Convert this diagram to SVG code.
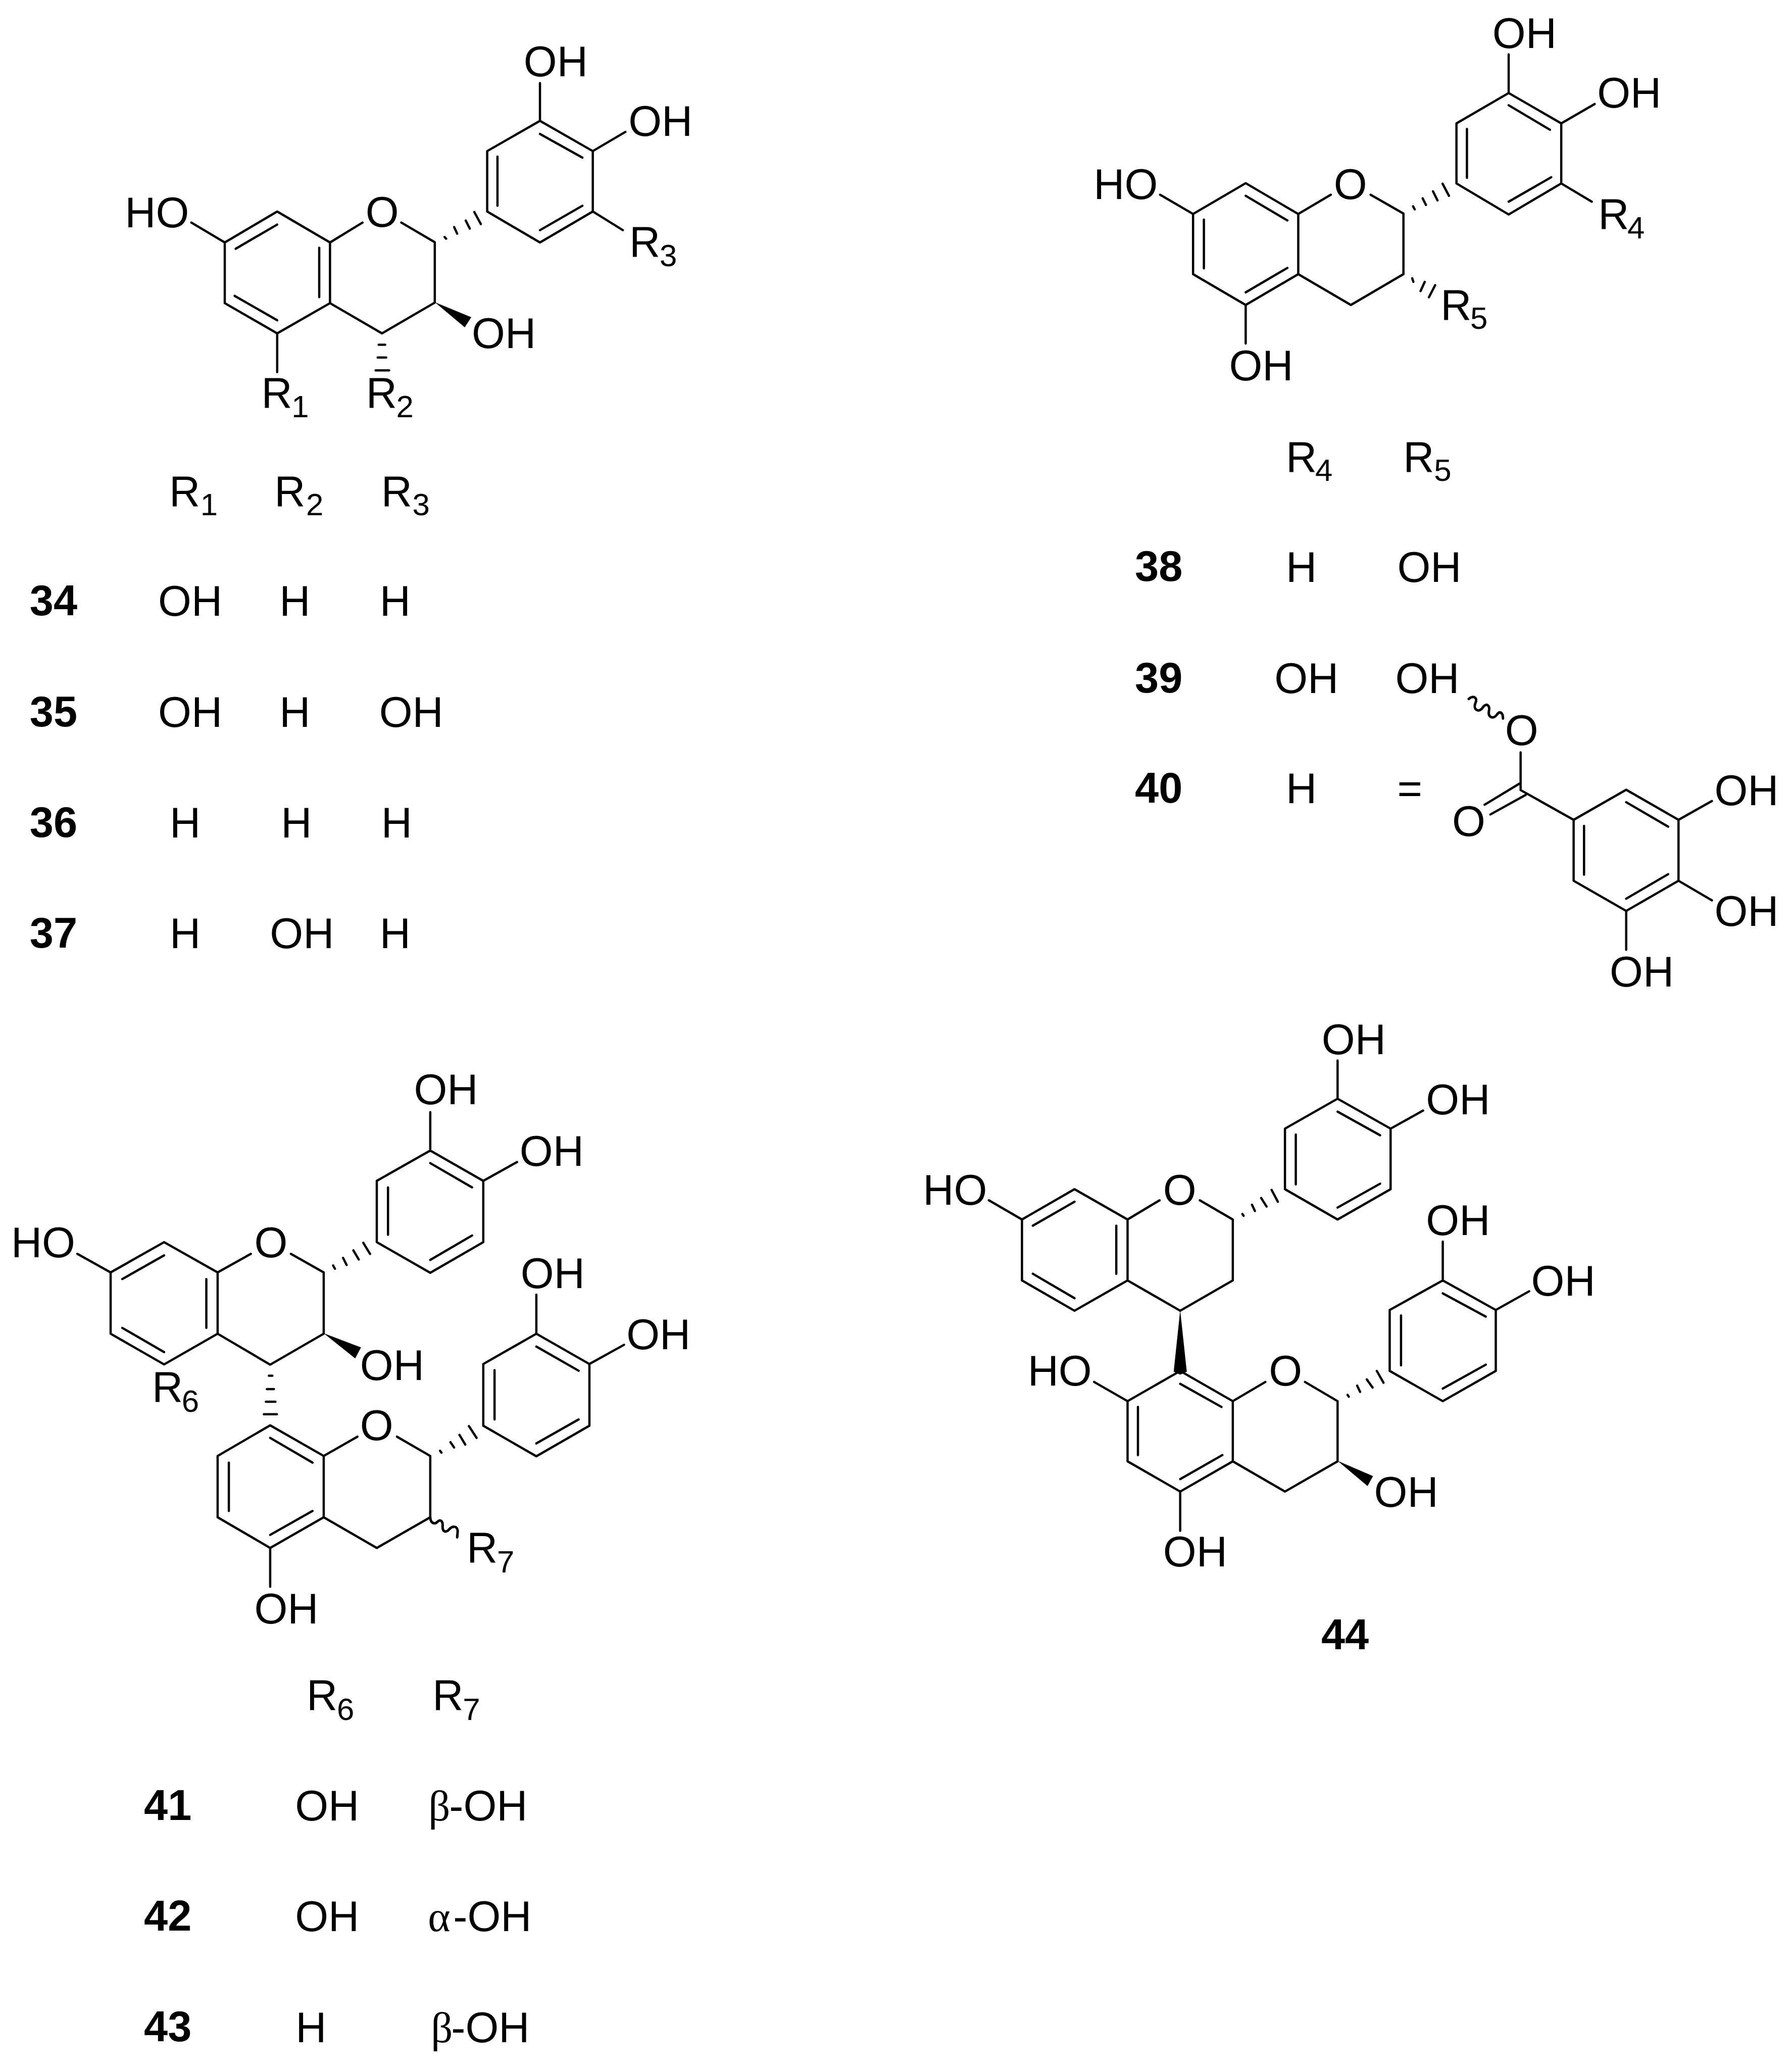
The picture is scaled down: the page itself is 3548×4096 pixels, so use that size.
<svg xmlns="http://www.w3.org/2000/svg" width="3548" height="4096" viewBox="0 0 3548 4096">
<style>
text{font-family:"Liberation Sans",Arial,sans-serif;font-size:85px;fill:#000}
.s{font-size:62px}
.b{font-weight:bold}
.g{font-family:"Liberation Serif","Times New Roman",serif}
.bond{fill:none;stroke:#000;stroke-width:4.5;stroke-linecap:round;stroke-linejoin:round}
.wave{fill:none;stroke:#000;stroke-width:5;stroke-linecap:round}
.wedge{fill:#000;stroke:none}
</style>
<rect width="3548" height="4096" fill="#fff"/>
<g transform="scale(0.99691)">
<g id="connectors">
<g id="bonds-34">
<path class="bond" d="M380,442L446.4,481.5M446.4,481.5L550.5,420L655.4,481.5V602L550.5,662L446.4,602ZM655.4,481.5L720,442M797,442L863.5,481V601L758.7,662L655.4,602M863.5,481M967.6,420V300L1072.4,240L1177.3,300V420L1072.4,481.5ZM1072.4,240V165M1177.3,300L1242,262M1177.3,420L1237,457M550.5,662V739M468,494L550.5,446M634,492V590M550.5,636L466,587.5M988,311V408.6M1072.5,266L1156.6,313M1156.6,408.6L1072.5,457"/>
<path class="bond" d="M883,470.6L886,474M902,451L908,464M925,438L933,454M942,421L955,445M752,684.5H765M750,710H767M746,735.5H773"/>
<polygon class="wedge" points="863.5,600 923,650 936,630"/>
</g>
<g id="bonds-38">
<path class="bond" d="M2304,386.7L2369.5,425M2369.5,425L2474,363.8L2578.4,425V544.4L2474,605.6L2369.5,544.4ZM2578.4,425L2643,386.7M2722,386.7L2787.3,424V544.4L2682.9,605.6L2578.4,544.4M2892.6,364.3V245L2996.3,184.7L3100.7,245V364.3L2996.3,426ZM2996.3,184.7V108M3100.7,245L3167,206.6M3100.7,364.3L3161.3,400.5M2474,605.6V682M2474,388.8L2556.8,437.7M2556.8,532L2474,580.6M2391,533V436M2913.4,353V256M2996.3,209L3078.3,257.7M3080.8,352L2996.3,400.5"/>
<path class="bond" d="M2806.4,409.7L2809.7,415.8M2825.5,393.9L2832,407M2846,380L2855,398M2865,364.8L2877.7,388.8M2804.7,552.5L2807,559.7M2829.6,559.7L2821.3,578M2850.3,566.3L2837.9,590.3"/>
</g>
<g id="bonds-gallate">
<path class="bond" d="M3020,1494V1569L3125.3,1628M3017.4,1556.3L2948.5,1598M3030,1578.6L2960,1617.4M3125.3,1628L3229.7,1568.4L3333.6,1628V1749L3229.7,1809L3125.3,1749ZM3229.7,1593L3313,1641.6M3313,1736L3229.7,1784.6M3146,1737V1640M3333.6,1628L3400,1590.7M3333.6,1749L3400,1788M3229.7,1809V1886"/>
<path class="wave" d="M2917,1388C2925,1380 2936,1385 2930,1397C2925,1410 2938,1416 2945,1405C2952,1394 2960,1402 2957,1412C2955,1425 2966,1429 2973,1419C2979,1411 2985,1415 2985,1427"/>
</g>
<g id="bonds-41">
<path class="bond" d="M153.6,2490L219.7,2526.8M219.7,2526.8L325.9,2466.7L432.2,2526.8V2648.6L325.9,2709.5L219.7,2648.6ZM432.2,2526.8L498.2,2490M577.7,2490L642.9,2526.8V2648.6L536.6,2710L432.2,2648.6M748.3,2466.7V2345L854.5,2284.8L959.8,2345V2466.7L854.5,2527.6ZM854.5,2284.8V2208.5M959.8,2345L1026.8,2307.6M242.9,2540L325.9,2493M409.8,2540V2637M325.9,2685L242.9,2637M770.6,2452V2358M854.5,2309.8L937.6,2358M937.6,2453.5L854.5,2502"/>
<path class="bond" d="M536.6,2830.5L642.9,2891.3V3013L536.6,3074L432.2,3013V2891.3ZM642.9,2891.3L709.8,2853M788.4,2853L854.5,2891.3V3013L748.3,3074L642.9,3013M536.6,2855.4L620.6,2904.5M620.6,3000.6L536.6,3048M454.5,3000.6V2904.5M959.8,2831.2V2708.7L1065.2,2648.6L1170.6,2708.7V2831.2L1065.2,2892ZM982.2,2818.7V2721M1065.2,2674L1149.2,2722M1149.2,2818.7L1065.2,2866.4M1065.2,2648.6V2571M1170.6,2708.7L1239.3,2670.6M536.6,3074V3151"/>
<path class="bond" d="M661.6,2513L665.2,2519.5M681.3,2498L688.4,2512M701.8,2483L712.5,2501M721.5,2468L734.9,2490M534,2732H541M530,2758.6H544M528,2783.5H547M524,2808.5H550M874,2881L876.8,2884.7M894.7,2864L901.8,2874.5M912.5,2849.5L924,2868.6M931.3,2832L946.5,2855.4"/>
<polygon class="wedge" points="642.9,2647.6 717,2675.7 705.4,2697.7"/>
<path class="wave" d="M854.5,3013C855,3026 864,3028 870,3021C877,3016 880,3024 879,3032C879,3043 887,3044 893,3036C899,3030 908,3030 909,3040C909,3045 908,3049 908,3053"/>
</g>
<g id="bonds-44">
<path class="bond" d="M1964,2383.6L2029.7,2421.7M2029.7,2421.7L2134,2361.6L2239.4,2421.7V2542.7L2134,2602.9L2029.7,2542.7ZM2239.4,2421.7L2303,2383.6M2382.9,2383.6L2448.4,2421.7V2542.7L2343.9,2602.9L2239.4,2542.7M2552,2361.6V2241.3L2656.5,2181.9L2761.8,2241.3V2361.6L2656.5,2421.7ZM2656.5,2181.9V2106M2761.8,2241.3L2826.4,2205.4M2051.2,2434L2134,2386.5M2217,2434V2529.5M2134,2578L2051.2,2529.5M2573.5,2352V2253M2656.5,2207.6L2741,2254.5M2741,2350.6L2656.5,2398"/>
<path class="bond" d="M2343.9,2722.5L2448.4,2782.5V2902L2343.9,2962L2239.4,2902V2782.5ZM2239.4,2782.5L2173,2744.4M2343.9,2748L2426,2794M2260,2794V2889.6M2343.9,2937.3L2427.6,2889.6M2448.4,2782.5L2513,2744.4M2591.8,2744.4L2656.5,2782.5V2902L2552,2962L2448.4,2902M2760,2722.4V2601.4L2865.4,2542.7L2970.7,2601.4V2722.4L2865.4,2782.5ZM2782.5,2711.4V2612.4M2865.4,2568.4L2950.8,2614.6M2950.8,2710L2865.4,2757.6M2865.4,2542.7V2465.7M2970.7,2601.4L3037,2564.3M2343.9,2962V3040"/>
<path class="bond" d="M2467.4,2410.7L2469.9,2414.4M2486.5,2392.4L2492.3,2404.8M2504.7,2379L2515.5,2396M2525.5,2363L2537.9,2386.5M2676.4,2770L2678.8,2773.7M2695.4,2751.7L2701.2,2764M2714.5,2739.3L2726,2755.4M2734.4,2722.4L2747.7,2745.9"/>
<polygon class="wedge" points="2343.9,2601.5 2331,2724 2343.9,2730 2357,2724"/>
<polygon class="wedge" points="2656.5,2901 2726.9,2931.4 2716,2951"/>
</g>
</g>
<g id="labels-34">
<text x="1040" y="151">OH</text>
<text x="1248" y="270">OH</text>
<text x="248" y="451">HO</text>
<text x="726" y="450">O</text>
<text x="1250" y="510">R<tspan class="s" x="1310" y="529">3</tspan></text>
<text x="937" y="691">OH</text>
<text x="519" y="810">R<tspan class="s" x="579" y="829">1</tspan></text>
<text x="727" y="810">R<tspan class="s" x="787" y="829">2</tspan></text>
</g>
<g id="table-34-37">
<text x="336" y="1005">R<tspan class="s" x="398" y="1023">1</tspan></text>
<text x="545" y="1005">R<tspan class="s" x="608" y="1023">2</tspan></text>
<text x="757" y="1005">R<tspan class="s" x="819" y="1023">3</tspan></text>
<text class="b" x="59" y="1222">34</text><text x="314" y="1223">OH</text><text x="555" y="1223">H</text><text x="754" y="1223">H</text>
<text class="b" x="59" y="1442">35</text><text x="314" y="1443">OH</text><text x="555" y="1443">H</text><text x="753" y="1443">OH</text>
<text class="b" x="59" y="1662">36</text><text x="337" y="1663">H</text><text x="558" y="1663">H</text><text x="757" y="1663">H</text>
<text class="b" x="59" y="1882">37</text><text x="337" y="1883">H</text><text x="536" y="1883">OH</text><text x="754" y="1883">H</text>
</g>
<g id="labels-38">
<text x="2964" y="95">OH</text>
<text x="3172" y="214">OH</text>
<text x="2172" y="395">HO</text>
<text x="2649" y="395">O</text>
<text x="3174" y="454">R<tspan class="s" x="3232" y="473">4</tspan></text>
<text x="2861" y="635">R<tspan class="s" x="2920" y="653">5</tspan></text>
<text x="2441" y="755">OH</text>
</g>
<g id="table-38-40">
<text x="2554" y="937">R<tspan class="s" x="2612" y="955">4</tspan></text>
<text x="2787" y="937">R<tspan class="s" x="2848" y="955">5</tspan></text>
<text class="b" x="2254" y="1154">38</text><text x="2554" y="1156">H</text><text x="2775" y="1156">OH</text>
<text class="b" x="2254" y="1375">39</text><text x="2531" y="1376">OH</text><text x="2771" y="1376">OH</text>
<text class="b" x="2254" y="1594">40</text><text x="2554" y="1595">H</text><text x="2775" y="1595">=</text>
</g>
<g id="labels-gallate">
<text x="2989" y="1480">O</text>
<text x="2884" y="1660">O</text>
<text x="3405" y="1599">OH</text>
<text x="3405" y="1839">OH</text>
<text x="3197" y="1959">OH</text>
</g>
<g id="labels-41">
<text x="822" y="2193">OH</text>
<text x="1032" y="2315">OH</text>
<text x="22" y="2497">HO</text>
<text x="505" y="2497">O</text>
<text x="715" y="2740">OH</text>
<text x="302" y="2784">R<tspan class="s" x="361" y="2804">6</tspan></text>
<text x="1034" y="2558">OH</text>
<text x="1244" y="2679">OH</text>
<text x="715" y="2860">O</text>
<text x="927" y="3103">R<tspan class="s" x="987" y="3123">7</tspan></text>
<text x="505" y="3224">OH</text>
</g>
<g id="table-41-43">
<text x="609" y="3396">R<tspan class="s" x="669" y="3416">6</tspan></text>
<text x="859" y="3396">R<tspan class="s" x="919" y="3416">7</tspan></text>
<text class="b" x="286" y="3614">41</text><text x="586" y="3615">OH</text><text class="g" x="851" y="3615">β</text><text x="892" y="3615">-OH</text>
<text class="b" x="286" y="3834">42</text><text x="586" y="3835">OH</text><text class="g" x="850" y="3835">α</text><text x="900" y="3835">-OH</text>
<text class="b" x="286" y="4054">43</text><text x="587" y="4056">H</text><text class="g" x="856" y="4056">β</text><text x="896" y="4056">-OH</text>
</g>
<g id="labels-44">
<text x="2625" y="2093">OH</text>
<text x="2832" y="2213">OH</text>
<text x="1833" y="2392">HO</text>
<text x="2310" y="2392">O</text>
<text x="2041" y="2752">HO</text>
<text x="2520" y="2752">O</text>
<text x="2729" y="2992">OH</text>
<text x="2310" y="3111">OH</text>
<text x="2832" y="2453">OH</text>
<text x="3041" y="2573">OH</text>
<text class="b" x="2624" y="3275">44</text>
</g>
</g>
</svg>
